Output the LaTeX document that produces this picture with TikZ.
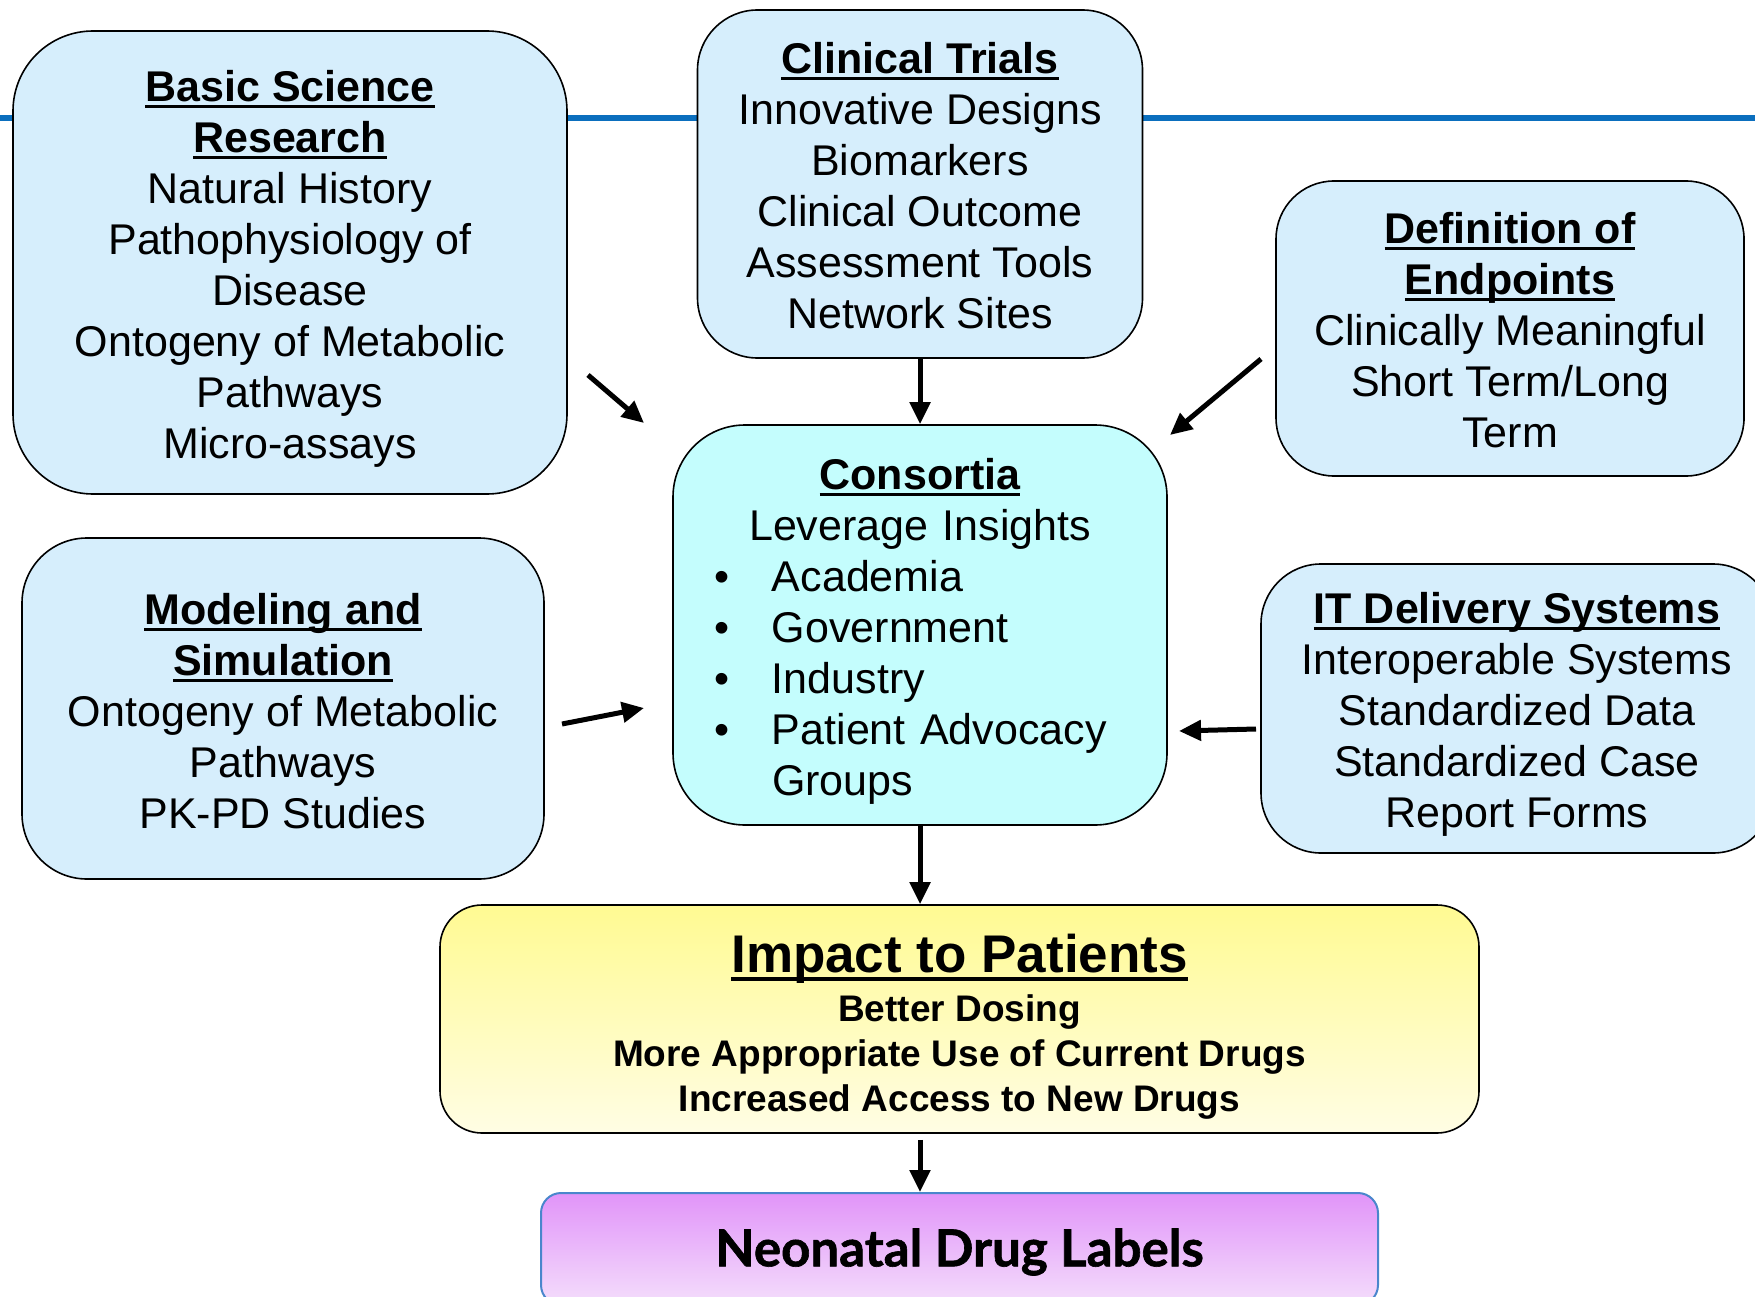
\documentclass[tikz,border=0pt]{standalone}
\usepackage{fontspec}
\setmainfont{Liberation Sans}
\newfontfamily\gillfont{Lato}[BoldFeatures={FakeBold=1.2}]
\usetikzlibrary{arrows.meta}
\definecolor{lineblue}{HTML}{0B6FBE}
\definecolor{paleblue}{HTML}{D6EEFC}
\definecolor{cyanfill}{HTML}{C4FDFD}
\definecolor{yeltop}{HTML}{FFFA92}
\definecolor{yelbot}{HTML}{FFFDE4}
\definecolor{purtop}{HTML}{E194F9}
\definecolor{purbot}{HTML}{F4DEFB}
\definecolor{purborder}{HTML}{4A86CC}
\newsavebox\ulsave
\newcommand\ulx[1]{\sbox\ulsave{#1}\rlap{\rule[-0.15em]{\wd\ulsave}{0.07em}}\usebox\ulsave}
\tikzset{
  infobox/.style={draw=black, line width=1.6pt, fill=paleblue, inner sep=0pt},
  boxtext/.style={inner sep=0pt, align=center, font=\fontsize{43}{51}\selectfont},
  arr/.style={line width=5pt, -{Triangle[length=22pt,width=20pt]}},
}
\begin{document}
\begin{tikzpicture}[x=1pt,y=-1pt]
\useasboundingbox (0,0) rectangle (1755,1297);
% blue rule
\coordinate (rl) at (0,118);
\coordinate (rr) at (1755,118);
\draw[lineblue, line width=6pt] (rl) -- (rr);

% boxes
\node[infobox, minimum width=554pt, minimum height=463pt, rounded corners=80pt] (basic) at (290,262.5) {};
\node[infobox, minimum width=445pt, minimum height=348pt, rounded corners=60pt] (clin) at (920,184) {};
\node[infobox, minimum width=468pt, minimum height=295pt, rounded corners=58pt] (defn) at (1510,328.5) {};
\node[infobox, fill=cyanfill, minimum width=494pt, minimum height=400pt, rounded corners=72pt] (cons) at (920,625) {};
\node[infobox, minimum width=522pt, minimum height=341pt, rounded corners=65pt] (model) at (283,708.5) {};
\node[infobox, minimum width=512pt, minimum height=289pt, rounded corners=60pt] (it) at (1517,708.5) {};
\node[draw=black, line width=1.6pt, top color=yeltop, bottom color=yelbot, inner sep=0pt,
      minimum width=1039pt, minimum height=228pt, rounded corners=42pt] (imp) at (959.5,1019) {};
\node[draw=purborder, line width=2pt, top color=purtop, bottom color=purbot, inner sep=0pt,
      minimum width=837pt, minimum height=112pt, rounded corners=20pt] (neo) at (959.5,1249) {};

% texts
\node[boxtext] (basic-t) at ([yshift=-6pt]basic.center)
  {\ulx{\bfseries Basic Science}\\ \ulx{\bfseries Research}\\ Natural History\\ Pathophysiology of\\ Disease\\ Ontogeny of Metabolic\\ Pathways\\ Micro-assays};
\node[boxtext] (clin-t) at ([yshift=-1.5pt]clin.center)
  {\ulx{\bfseries Clinical Trials}\\ Innovative Designs\\ Biomarkers\\ Clinical Outcome\\ Assessment Tools\\ Network Sites};
\node[boxtext] (defn-t) at ([yshift=-1.5pt]defn.center)
  {\ulx{\bfseries Definition of}\\ \ulx{\bfseries Endpoints}\\ Clinically Meaningful\\ Short Term/Long\\ Term};
\node[boxtext, text width=412pt, align=left] (cons-t) at ([yshift=-6pt]cons.center)
  {\makebox[412pt]{\ulx{\bfseries Consortia}}\\
   \makebox[412pt]{Leverage Insights}\\
   \makebox[58pt][l]{•}Academia\\
   \makebox[58pt][l]{•}Government\\
   \makebox[58pt][l]{•}Industry\\
   \makebox[58pt][l]{•}Patient Advocacy\\
   \hspace*{58pt}Groups};
\node[boxtext] (model-t) at ([yshift=-2.5pt]model.center)
  {\ulx{\bfseries Modeling and}\\ \ulx{\bfseries Simulation}\\ Ontogeny of Metabolic\\ Pathways\\ PK-PD Studies};
\node[boxtext] (it-t) at ([yshift=-6pt]it.center)
  {\ulx{\bfseries IT Delivery Systems}\\ Interoperable Systems\\ Standardized Data\\ Standardized Case\\ Report Forms};
\node[boxtext, font=\fontsize{37}{45}\selectfont\bfseries] (imp-t) at ([yshift=-8pt]imp.center)
  {{\fontsize{53}{58}\selectfont\ulx{Impact to Patients}}\\[4pt]
   Better Dosing\\ More Appropriate Use of Current Drugs\\ Increased Access to New Drugs};
\node[inner sep=0pt, font=\fontsize{51}{58}\selectfont\gillfont\bfseries] (neo-t) at ([yshift=-3pt]neo.center)
  {Neonatal Drug Labels};

% arrows
\draw[arr] (clin.south) -- (cons.north);
\draw[arr] (cons.south) -- (cons.south |- imp.north);
\draw[arr, shorten <=6pt] (imp.south -| cons.south) -- (neo.north -| cons.south);

\coordinate (a1s) at (588,375);  \coordinate (a1e) at (644,423);
\coordinate (a2s) at (1261,359); \coordinate (a2e) at (1170,435);
\coordinate (a3s) at (562,724);  \coordinate (a3e) at (644,708);
\coordinate (a4s) at (1256,729); \coordinate (a4e) at (1179,731);
\draw[arr] (a1s) -- (a1e);
\draw[arr] (a2s) -- (a2e);
\draw[arr] (a3s) -- (a3e);
\draw[arr] (a4s) -- (a4e);
\end{tikzpicture}
\end{document}
